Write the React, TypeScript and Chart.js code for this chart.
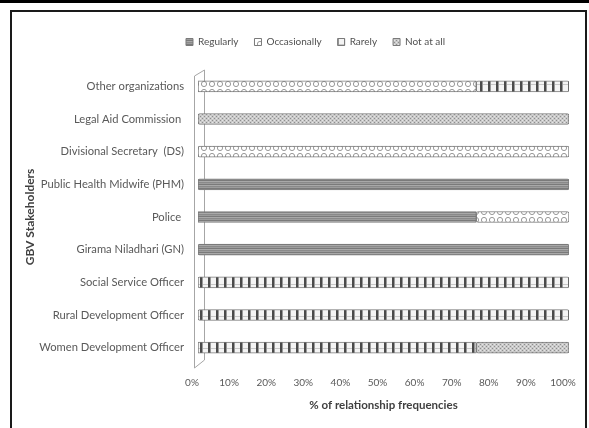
import { useEffect, useRef } from 'react';
import { Chart, registerables } from 'chart.js';

Chart.register(...registerables);

const categories = [
  'Other organizations',
  'Legal Aid Commission ',
  'Divisional Secretary  (DS)',
  'Public Health Midwife (PHM)',
  'Police ',
  'Girama Niladhari (GN)',
  'Social Service Officer',
  'Rural Development Officer',
  'Women Development Officer',
];
const regularly = [0, 0, 0, 100, 75, 100, 0, 0, 0];
const occasionally = [75, 0, 100, 0, 25, 0, 0, 0, 0];
const rarely = [25, 0, 0, 0, 0, 0, 100, 100, 75];
const notAtAll = [0, 100, 0, 0, 0, 0, 0, 0, 25];
const seriesNames = ['Regularly', 'Occasionally', 'Rarely', 'Not at all'];

function makePattern(kind: string): CanvasPattern | string {
  const c = document.createElement('canvas');
  const g = c.getContext('2d');
  if (!g) return '#888';
  if (kind === 'reg') {
    c.width = 6; c.height = 4;
    const rows = ['#7a7a7a', '#a9a9a9', '#8a8a8a', '#9c9c9c'];
    rows.forEach((col, i) => { g.fillStyle = col; g.fillRect(0, i, 6, 1); });
  } else if (kind === 'occ') {
    c.width = 8; c.height = 8;
    g.fillStyle = '#ffffff'; g.fillRect(0, 0, 8, 8);
    g.strokeStyle = '#9a9a9a'; g.lineWidth = 1;
    g.beginPath(); g.arc(4, 4, 2.6, 0, Math.PI * 2); g.stroke();
  } else if (kind === 'rar') {
    c.width = 8; c.height = 8;
    g.fillStyle = '#f4f4f4'; g.fillRect(0, 0, 8, 8);
    g.fillStyle = '#4a4a4a'; g.fillRect(0, 0, 2, 8);
    g.fillStyle = '#9a9a9a'; g.fillRect(2, 0, 1, 8);
    g.fillStyle = '#c8c8c8'; g.fillRect(3, 4, 5, 1);
  } else {
    c.width = 4; c.height = 4;
    g.fillStyle = '#c9c9c9'; g.fillRect(0, 0, 4, 4);
    g.fillStyle = '#8e8e8e';
    g.fillRect(0, 0, 1, 1); g.fillRect(2, 2, 1, 1);
    g.fillStyle = '#e6e6e6';
    g.fillRect(2, 0, 1, 1); g.fillRect(0, 2, 1, 1);
  }
  return g.createPattern(c, 'repeat') || '#888';
}

const framePlugin = {
  id: 'frame',
  beforeDraw(chart: any) {
    const ctx = chart.ctx;
    ctx.save();
    ctx.fillStyle = '#ffffff';
    ctx.fillRect(0, 0, chart.width, chart.height);
    ctx.fillStyle = '#000000';
    ctx.fillRect(0, 0, chart.width, 3);
    ctx.strokeStyle = '#1a1a1a';
    ctx.lineWidth = 2;
    ctx.strokeRect(11, 11, 575, 440);
    ctx.restore();
  },
  afterLayout(chart: any) {
    const lg = chart.legend;
    if (lg) { lg.left += 20; lg.right += 20; }
  },
  beforeDatasetsDraw(chart: any) {
    const { ctx, chartArea } = chart;
    const L = chartArea.left, T = chartArea.top, B = chartArea.bottom;
    ctx.save();
    ctx.strokeStyle = '#a6a6a6';
    ctx.lineWidth = 1;
    ctx.beginPath();
    ctx.moveTo(L - 3.5, T + 6);
    ctx.lineTo(L + 6.5, T);
    ctx.lineTo(L + 6.5, B - 4);
    ctx.lineTo(L - 3.5, B + 4);
    ctx.closePath();
    ctx.stroke();
    ctx.restore();
  },
};

export default function App() {
  const ref = useRef<HTMLCanvasElement>(null);
  useEffect(() => {
    if (!ref.current) return;
    const pats = [makePattern('reg'), makePattern('occ'), makePattern('rar'), makePattern('not')];
    const values = [regularly, occasionally, rarely, notAtAll];
    const chart = new Chart(ref.current, {
      type: 'bar',
      data: {
        labels: categories,
        datasets: seriesNames.map((name, i) => ({
          label: name,
          data: values[i],
          backgroundColor: pats[i] as any,
          borderColor: '#7a7a7a',
          borderWidth: 1,
          borderSkipped: false,
          borderRadius: 2,
          barThickness: 11,
        })),
      },
      options: {
        indexAxis: 'y',
        responsive: false,
        animation: false,
        layout: { padding: { left: 22, right: 20, top: 21, bottom: 0 } },
        scales: {
          x: {
            stacked: true,
            min: 0,
            max: 100,
            grid: { display: false, drawTicks: false },
            border: { display: false },
            ticks: {
              stepSize: 10,
              autoSkip: false,
              maxRotation: 0,
              callback: (v: any) => v + '%',
              color: '#595959',
              font: { family: 'Lato', size: 10 },
              padding: 13,
              labelOffset: -6,
            },
            title: {
              display: true,
              text: '% of relationship frequencies',
              color: '#404040',
              font: { family: 'Lato', size: 11.5, weight: 'bold' },
              padding: { top: 0, bottom: 16 },
            },
            afterFit: (s: any) => { s.height = 64; s.paddingLeft = 0; s.paddingRight = 0; },
          },
          y: {
            stacked: true,
            grid: { display: false, drawTicks: false },
            border: { display: false },
            ticks: {
              color: '#595959',
              font: { family: 'Lato', size: 11.2 },
              padding: 14,
            },
            title: {
              display: true,
              text: 'GBV Stakeholders',
              color: '#404040',
              font: { family: 'Lato', size: 12, weight: 'bold' },
              padding: { top: 1, bottom: 0 },
            },
            afterFit: (s: any) => { s.width = 176; },
          },
        },
        plugins: {
          legend: {
            position: 'top',
            labels: {
              boxWidth: 7,
              boxHeight: 7,
              padding: 16,
              color: '#505050',
              font: { family: 'Lato', size: 10 },
            },
          },
          title: {
            display: true,
            text: '',
            weight: 500,
            padding: 0,
            font: { size: 10, lineHeight: 1.3 },
          } as any,
          tooltip: { enabled: false },
        },
      },
      plugins: [framePlugin],
    });
    return () => chart.destroy();
  }, []);
  return (
    <div style={{ position: 'absolute', left: 0, top: 0, width: 589, height: 428 }}>
      <canvas ref={ref} width={589} height={428} />
    </div>
  );
}
